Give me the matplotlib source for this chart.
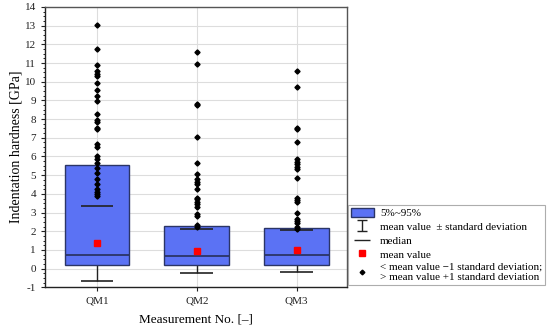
import matplotlib
matplotlib.use("Agg")
import matplotlib.pyplot as plt
from matplotlib.patches import Patch
from matplotlib.lines import Line2D
from matplotlib.ticker import MultipleLocator

plt.rcParams['font.family'] = ['Liberation Serif', 'DejaVu Serif']
plt.rcParams['axes.unicode_minus'] = False

categories = ["QM1", "QM2", "QM3"]
p5 = [0.20, 0.21, 0.17]
p95 = [5.57, 2.27, 2.17]
median = [0.74, 0.69, 0.73]
mean = [1.37, 0.95, 1.00]
sd_low = [-0.64, -0.25, -0.16]
sd_high = [3.33, 2.13, 2.08]

out_qm1 = [13.05, 11.77, 10.87, 10.55, 10.43, 10.32, 9.93, 9.57, 9.25, 8.95,
           8.27, 7.93, 7.82, 7.54, 7.47, 6.68, 6.53, 6.0, 5.86, 5.65, 5.41,
           5.14, 4.8, 4.54, 4.27, 4.12, 3.98, 3.86]
out_qm2 = [11.57, 10.96, 8.79, 8.74, 7.02, 5.65, 5.06, 4.79, 4.66, 4.52, 4.25,
           3.8, 3.72, 3.59, 3.47, 3.32, 2.91, 2.82, 2.34, 2.25]
out_qm3 = [10.55, 9.73, 7.55, 7.48, 6.77, 5.88, 5.73, 5.61, 5.46, 5.34, 4.84,
           3.8, 3.68, 3.59, 2.97, 2.66, 2.55, 2.43, 2.25, 2.13]
outliers = [out_qm1, out_qm2, out_qm3]

box_color = '#5b72f4'
edge_color = '#2b3566'

fig = plt.figure(figsize=(5.5, 3.31), dpi=100)
ax = fig.add_axes([0.082, 0.132, 0.548, 0.847])

x = list(range(1, len(categories) + 1))
bw = 0.65
cw = 0.33

ax.set_axisbelow(True)
ax.grid(True, color='#dddddd', linewidth=0.8)

ax.vlines(x, sd_low, [min(a, b) for a, b in zip(p5, sd_high)], color='#222222', lw=1.0, zorder=2)
ax.bar(x, [h - l for h, l in zip(p95, p5)], bottom=p5, width=bw,
       color=box_color, edgecolor=edge_color, linewidth=1.0, zorder=3)
for xi, m in zip(x, median):
    ax.hlines(m, xi - bw / 2, xi + bw / 2, color=edge_color, lw=1.3, zorder=4)
for xi, lo, hi in zip(x, sd_low, sd_high):
    ax.hlines([lo, hi], xi - cw / 2, xi + cw / 2, color='#222222', lw=1.2, zorder=4)
ax.plot(x, mean, 's', color='#ff0000', markersize=4, zorder=6, linestyle='none')
for xi, pts in zip(x, outliers):
    ax.plot([xi] * len(pts), pts, 'D', color='black', markersize=2.6, zorder=7, linestyle='none')

# legend-only error bar (placed outside the visible range)
eb = ax.errorbar([-10], [0], yerr=[1], fmt='none', ecolor='#222222', capsize=3.5, elinewidth=1, capthick=1)

ax.set_xlim(0.48, 3.5)
ax.set_ylim(-1, 14)
ax.set_xticks(x)
ax.set_xticklabels(categories)
ax.yaxis.set_major_locator(MultipleLocator(1))
ax.yaxis.set_minor_locator(MultipleLocator(0.25))
ax.tick_params(axis='both', direction='out', labelsize=8, colors='#222222', length=3)
ax.tick_params(axis='y', which='minor', length=1.5)
for s in ax.spines.values():
    s.set_color('#555555')
    s.set_linewidth(1.0)
ax.spines['left'].set_color('#222222')
ax.spines['bottom'].set_color('#222222')

ax.set_ylabel('Indentation hardness [GPa]', fontsize=10, labelpad=2)
ax.set_xlabel('Measurement No. [–]', fontsize=9.5, labelpad=6)

handles = [
    Patch(facecolor=box_color, edgecolor=edge_color, linewidth=1.0),
    eb,
    Line2D([], [], marker='_', color='#222222', markersize=11, markeredgewidth=1.0, linestyle='none'),
    Line2D([], [], marker='s', color='#ff0000', markersize=4, linestyle='none'),
    Line2D([], [], marker='D', color='black', markersize=2.4, linestyle='none'),
]
labels = ['5%~95%', 'mean value  ± standard deviation', 'median', 'mean value',
          '< mean value −1 standard deviation;\n> mean value +1 standard deviation']
leg = fig.legend(handles, labels, loc='upper left', bbox_to_anchor=(348 / 550, 1 - 205 / 331),
                 fontsize=8.0, frameon=True, fancybox=False, borderpad=0.25, handlelength=2.1,
                 handleheight=0.9, handletextpad=0.55, labelspacing=0.3, borderaxespad=0)
leg.get_frame().set_edgecolor('#999999')
leg.get_frame().set_linewidth(0.8)

fig.savefig('out.png', dpi=100)
